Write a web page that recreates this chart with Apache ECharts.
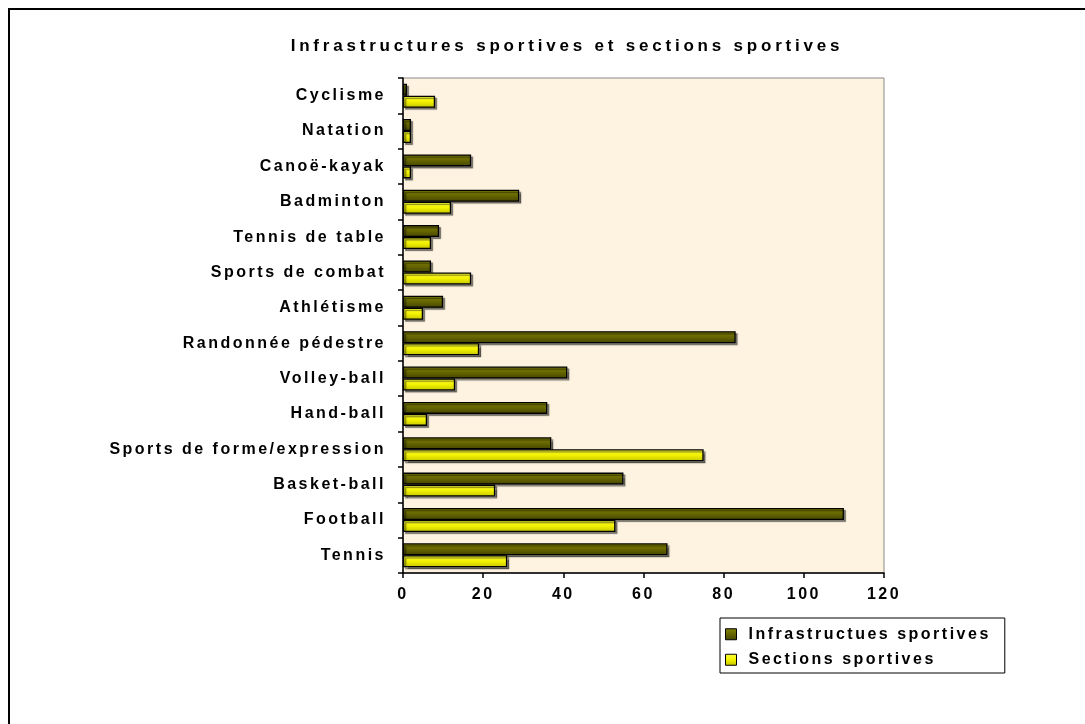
<!DOCTYPE html>
<html>
<head>
<meta charset="utf-8">
<script src="https://cdn.jsdelivr.net/npm/echarts@6/dist/echarts.min.js"></script>
<style>
html,body{margin:0;padding:0;background:#fff;}
#chart{width:1085px;height:724px;}
</style>
</head>
<body>
<div id="chart"></div>
<script>
// Data (categories listed bottom to top)
const categories = ["Tennis","Football","Basket-ball","Sports de forme/expression","Hand-ball","Volley-ball","Randonnée pédestre","Athlétisme","Sports de combat","Tennis de table","Badminton","Canoë-kayak","Natation","Cyclisme"];
const infrastructures = [66,110,55,37,36,41,83,10,7,9,29,17,2,1];
const sections = [26,53,23,75,6,13,19,5,17,7,12,2,2,8];
const seriesNames = ["Infrastructues sportives","Sections sportives"];
const chartTitle = "Infrastructures sportives et sections sportives";
const xTicks = {min:0,max:120,interval:20};

// Wide letter spacing like the original rendering
(function(){
  var P = CanvasRenderingContext2D.prototype;
  if (!('letterSpacing' in P)) return;
  function ls(ctx){
    var m = /(\d+(?:\.\d+)?)px/.exec(ctx.font || '');
    var s = m ? parseFloat(m[1]) : 12;
    return s >= 17 ? '3.8px' : '2.5px';
  }
  var f = P.fillText, me = P.measureText;
  P.fillText = function(){ var o=this.letterSpacing; this.letterSpacing=ls(this); var r=f.apply(this, arguments); this.letterSpacing=o; return r; };
  P.measureText = function(){ var o=this.letterSpacing; this.letterSpacing=ls(this); var r=me.apply(this, arguments); this.letterSpacing=o; return r; };
})();

const FONT = '"Liberation Sans", Arial, sans-serif';
const chart = echarts.init(document.getElementById('chart'), null, {renderer:'canvas'});

const darkGrad = new echarts.graphic.LinearGradient(0,0,0,1,[
  {offset:0,color:'#858500'},{offset:1,color:'#454500'}]);
const yellowGrad = new echarts.graphic.LinearGradient(0,0,0,1,[
  {offset:0,color:'#ffff40'},{offset:0.5,color:'#f2f200'},{offset:1,color:'#c4c400'}]);

const barStyle = {borderColor:'#000',borderWidth:1.3,shadowColor:'rgba(0,0,0,0.45)',shadowBlur:1,shadowOffsetX:2,shadowOffsetY:2};

chart.setOption({
  animation:false,
  backgroundColor:'#fff',
  graphic:[
    {type:'rect',shape:{x:9,y:9,width:1200,height:800},style:{fill:'none',stroke:'#000',lineWidth:2},z:100},
    {type:'text',style:{text:chartTitle,x:567,y:46,align:'center',verticalAlign:'middle',font:'bold 17px '+FONT,fill:'#000'}}
  ],
  grid:{left:403,top:78,width:481,height:495,show:true,backgroundColor:'#fdf3e0',borderColor:'#8a8a8a',borderWidth:1},
  xAxis:{type:'value',min:xTicks.min,max:xTicks.max,interval:xTicks.interval,
    axisLine:{show:true,lineStyle:{color:'#000',width:1.5}},
    axisTick:{show:true,length:5,lineStyle:{color:'#000',width:1.5}},
    splitLine:{show:false},
    axisLabel:{color:'#000',fontWeight:'bold',fontSize:16,fontFamily:FONT,margin:12}},
  yAxis:{type:'category',data:categories,
    axisLine:{show:true,lineStyle:{color:'#000',width:1.5}},
    axisTick:{show:true,length:5,lineStyle:{color:'#000',width:1.5}},
    axisLabel:{color:'#000',fontWeight:'bold',fontSize:16,fontFamily:FONT,margin:17}},
  legend:{orient:'vertical',left:720,top:618,padding:[7,14,4,5],itemGap:7,itemWidth:11,itemHeight:11,
    icon:'rect',borderColor:'#000',borderWidth:1,backgroundColor:'#fff',
    itemStyle:{borderColor:'#000',borderWidth:1,shadowBlur:0,shadowOffsetX:0,shadowOffsetY:0},
    textStyle:{color:'#000',fontWeight:'bold',fontSize:16,fontFamily:FONT,lineHeight:18,padding:[0,0,0,7]},
    data:seriesNames},
  series:[
    {name:seriesNames[0],type:'bar',data:infrastructures,barWidth:12,barGap:'0%',itemStyle:Object.assign({color:darkGrad},barStyle)},
    {name:seriesNames[1],type:'bar',data:sections,barWidth:12,barGap:'0%',itemStyle:Object.assign({color:yellowGrad},barStyle)}
  ]
});
</script>
</body>
</html>
